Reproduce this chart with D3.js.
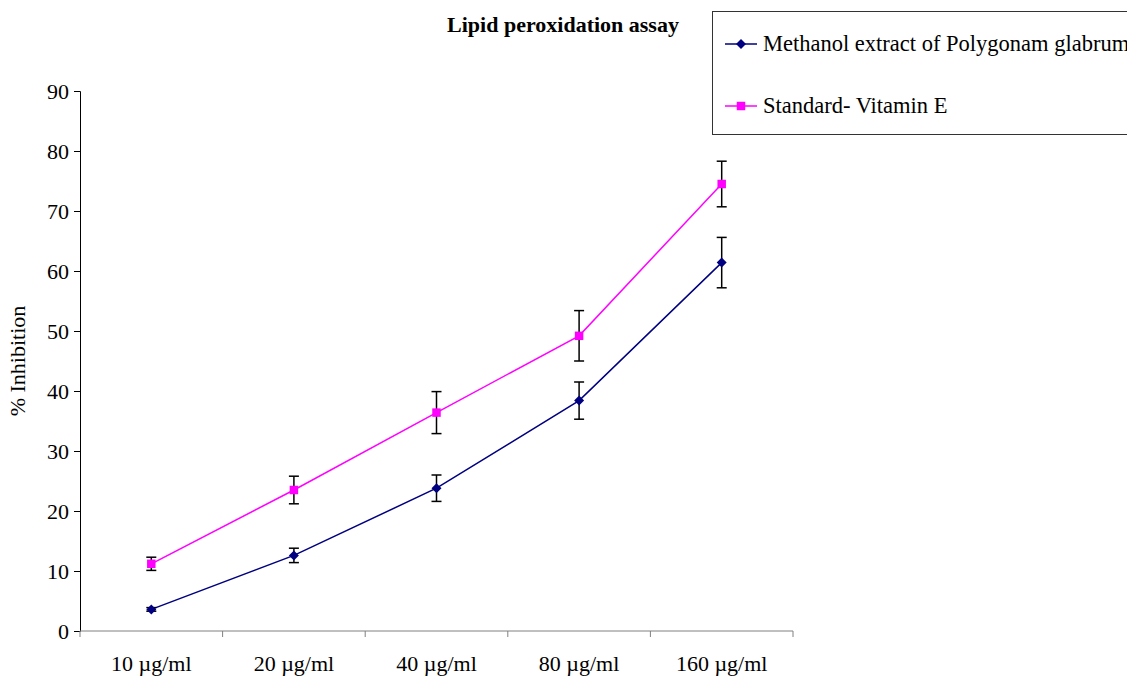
<!DOCTYPE html>
<html>
<head>
<meta charset="utf-8">
<script src="https://cdn.jsdelivr.net/npm/d3@7"></script>
<style>
  body { margin: 0; background: #fff; }
  svg { display: block; font-family: "Liberation Serif", "Times New Roman", serif; }
</style>
</head>
<body>
<div id="chart"></div>
<script>
"use strict";

var categories = ["10 µg/ml", "20 µg/ml", "40 µg/ml", "80 µg/ml", "160 µg/ml"];
var methanolValues = [3.6, 12.6, 23.8, 38.4, 61.4];
var methanolErrors = [0.3, 1.2, 2.2, 3.1, 4.2];
var vitaminValues = [11.2, 23.5, 36.4, 49.2, 74.5];
var vitaminErrors = [1.1, 2.3, 3.5, 4.2, 3.8];
var yTicks = [0, 10, 20, 30, 40, 50, 60, 70, 80, 90];

// diamond = square turned 45 degrees
var series = [
  { name: "Methanol extract of Polygonam glabrum", values: methanolValues, errors: methanolErrors, color: "#000080", size: 50, rotate: 45 },
  { name: "Standard- Vitamin E", values: vitaminValues, errors: vitaminErrors, color: "#FF00FF", size: 72, rotate: 0 }
];

var width = 1127, height = 677;
var plot = { left: 80, right: 793, top: 91, bottom: 631 };

var svg = d3.select("#chart").append("svg")
  .attr("width", width)
  .attr("height", height);

var x = d3.scaleBand().domain(categories).range([plot.left, plot.right]);
var y = d3.scaleLinear().domain([0, 90]).range([plot.bottom, plot.top]);

// title
svg.append("text")
  .attr("x", 563).attr("y", 32)
  .attr("text-anchor", "middle")
  .attr("font-size", 22).attr("font-weight", "bold")
  .text("Lipid peroxidation assay");

// y axis
var yAxis = svg.append("g")
  .attr("transform", "translate(" + plot.left + ",0)")
  .call(d3.axisLeft(y).tickValues(yTicks).tickSize(6).tickPadding(5));
yAxis.select(".domain").attr("stroke", "#000");
yAxis.selectAll(".tick line").attr("stroke", "#000");
yAxis.selectAll("text").attr("font-size", 22).attr("font-family", "Liberation Serif").attr("fill", "#000");

// x axis: ticks at band boundaries
var xAxis = svg.append("g")
  .attr("transform", "translate(0," + plot.bottom + ")");
xAxis.append("line")
  .attr("x1", plot.left).attr("x2", plot.right)
  .attr("stroke", "#808080");
var boundaries = categories.map(function(c) { return x(c); }).concat([plot.right]);
xAxis.selectAll(".xtick").data(boundaries).enter().append("line")
  .attr("x1", function(d) { return d; }).attr("x2", function(d) { return d; })
  .attr("y1", 0).attr("y2", 6)
  .attr("stroke", "#808080");
xAxis.selectAll(".xlabel").data(categories).enter().append("text")
  .attr("x", function(d) { return x(d) + x.bandwidth() / 2; })
  .attr("y", 40)
  .attr("text-anchor", "middle")
  .attr("font-size", 22)
  .text(function(d) { return d; });

// y axis title
svg.append("text")
  .attr("transform", "translate(25," + 361 + ") rotate(-90)")
  .attr("text-anchor", "middle")
  .attr("font-size", 22)
  .text("% Inhibition");

var cx = function(i) { return x(categories[i]) + x.bandwidth() / 2; };

var line = d3.line()
  .x(function(d, i) { return cx(i); })
  .y(function(d) { return y(d); });

series.forEach(function(s) {
  var g = svg.append("g");
  g.append("path")
    .attr("d", line(s.values))
    .attr("fill", "none")
    .attr("stroke", s.color)
    .attr("stroke-width", 1.5);

  // error bars
  s.values.forEach(function(v, i) {
    var e = s.errors[i], px = cx(i);
    g.append("line").attr("x1", px).attr("x2", px)
      .attr("y1", y(v - e)).attr("y2", y(v + e))
      .attr("stroke", "#000").attr("stroke-width", 1.5);
    [v - e, v + e].forEach(function(val) {
      g.append("line").attr("x1", px - 5).attr("x2", px + 5)
        .attr("y1", y(val)).attr("y2", y(val))
        .attr("stroke", "#000").attr("stroke-width", 1.5);
    });
  });

  g.selectAll(".marker").data(s.values).enter().append("path")
    .attr("d", d3.symbol().type(d3.symbolSquare).size(s.size))
    .attr("transform", function(d, i) { return "translate(" + cx(i) + "," + y(d) + ") rotate(" + s.rotate + ")"; })
    .attr("fill", s.color);
});

// legend
var legend = svg.append("g");
legend.append("rect")
  .attr("x", 712.5).attr("y", 11.5)
  .attr("width", 430).attr("height", 123)
  .attr("fill", "#fff").attr("stroke", "#333");
series.forEach(function(s, i) {
  var ly = 44 + i * 62;
  legend.append("line")
    .attr("x1", 725).attr("x2", 757).attr("y1", ly).attr("y2", ly)
    .attr("stroke", s.color).attr("stroke-width", 1.5);
  legend.append("path")
    .attr("d", d3.symbol().type(d3.symbolSquare).size(s.size))
    .attr("transform", "translate(741," + ly + ") rotate(" + s.rotate + ")")
    .attr("fill", s.color);
  legend.append("text")
    .attr("x", 763).attr("y", ly + 7)
    .attr("font-size", 22.5)
    .text(s.name);
});
</script>
</body>
</html>
